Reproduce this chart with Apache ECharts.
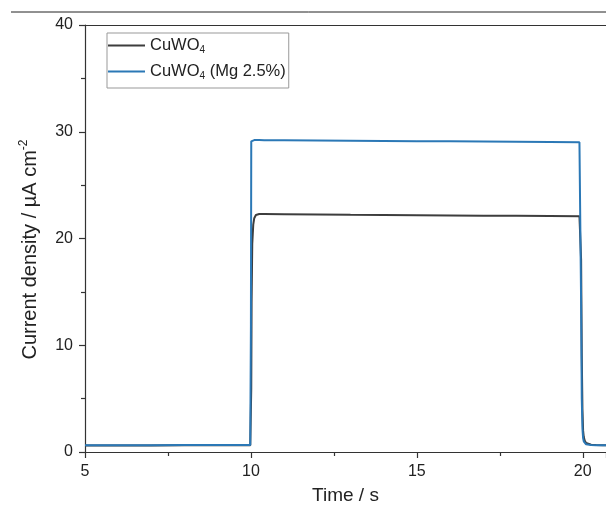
<!DOCTYPE html>
<html>
<head>
<meta charset="utf-8">
<style>
  html, body { margin: 0; padding: 0; background: #fff; }
  #chart { width: 606px; height: 513px; }
</style>
<script src="https://cdn.jsdelivr.net/npm/echarts@6/dist/echarts.min.js"></script>
</head>
<body>
<div id="chart"></div>
<script>
// Chopped-light photocurrent transient: time (s) and current density (µA cm^-2)
const time = [5, 6, 7, 8, 9, 9.98, 10.0, 10.01, 10.02, 10.04, 10.07, 10.1, 10.15, 10.25, 10.4,
  11, 12, 13, 14, 15, 16, 17, 18, 19, 19.9, 19.93, 19.95, 19.97, 19.99, 20.01, 20.03,
  20.06, 20.1, 20.15, 20.25, 20.4, 20.6, 20.8];

const cuwo4 = [0.62, 0.62, 0.62, 0.63, 0.63, 0.64, 0.7, 6.0, 14.0, 19.5, 21.3, 21.9, 22.2, 22.3, 22.3,
  22.28, 22.25, 22.22, 22.2, 22.18, 22.16, 22.14, 22.12, 22.1, 22.08, 22.05, 18.0, 9.0, 4.0, 2.0, 1.4,
  1.05, 0.85, 0.75, 0.68, 0.65, 0.63, 0.62];

const cuwo4Mg = [0.64, 0.64, 0.64, 0.65, 0.65, 0.66, 12.0, 29.1, 29.2, 29.22, 29.22, 29.22, 29.22, 29.22, 29.21,
  29.2, 29.18, 29.16, 29.14, 29.12, 29.1, 29.08, 29.06, 29.04, 29.02, 29.0, 14.0, 5.0, 2.2, 1.3, 1.0,
  0.82, 0.72, 0.68, 0.65, 0.64, 0.63, 0.63];

const seriesNames = ['CuWO4', 'CuWO4 (Mg 2.5%)'];
const xTicks = [5, 10, 15, 20];
const yTicks = [0, 10, 20, 30, 40];

const pairs = (ys) => time.map((t, i) => [t, ys[i]]);

const chart = echarts.init(document.getElementById('chart'), null, { renderer: 'canvas' });

const axisColor = '#333';
const font = 'Liberation Sans, Arial, sans-serif';

chart.setOption({
  animation: false,
  backgroundColor: '#fff',
  grid: { left: 85, right: 0, top: 25, bottom: 61, containLabel: false },
  graphic: [{
    type: 'line',
    shape: { x1: 11, y1: 12, x2: 606, y2: 12 },
    style: { stroke: '#222', lineWidth: 1 }
  }],
  legend: {
    left: 107, top: 33,
    orient: 'vertical',
    padding: [4, 3, 7, 1],
    itemGap: 8,
    itemWidth: 37,
    itemHeight: 2,
    icon: 'rect',
    borderColor: '#999',
    borderWidth: 1,
    data: seriesNames,
    formatter: (name) => name === seriesNames[0]
      ? '{n|CuWO}{s|4}'
      : '{n|CuWO}{s|4}{n| (Mg 2.5%)}',
    textStyle: {
      fontFamily: font,
      color: '#222',
      rich: {
        n: { fontSize: 16.5, fontFamily: font, color: '#222', lineHeight: 19 },
        s: { fontSize: 10, fontFamily: font, color: '#222', verticalAlign: 'bottom', lineHeight: 5 }
      }
    }
  },
  xAxis: [{
    type: 'value',
    min: 5, max: 20.7, interval: 5,
    name: 'Time / s',
    nameLocation: 'middle',
    nameGap: 34,
    nameTextStyle: { fontFamily: font, fontSize: 19, color: '#222' },
    axisLine: { show: true, onZero: false, lineStyle: { color: axisColor, width: 1.2 } },
    axisTick: { show: true, inside: false, length: 6, lineStyle: { color: axisColor, width: 1.2 } },
    minorTick: { show: true, splitNumber: 2, length: 4, lineStyle: { color: axisColor, width: 1.2 } },
    axisLabel: {
      fontFamily: font, fontSize: 16, color: '#222', margin: 12,
      formatter: (v) => xTicks.includes(v) ? String(v) : '',
      showMaxLabel: false
    },
    splitLine: { show: false }
  }, {
    type: 'value',
    position: 'top',
    min: 5, max: 20.7,
    axisLine: { show: true, onZero: false, lineStyle: { color: axisColor, width: 1.2 } },
    axisTick: { show: false },
    axisLabel: { show: false },
    splitLine: { show: false }
  }],
  yAxis: {
    type: 'value',
    min: 0, max: 40, interval: 10,
    name: '{n|Current density / µA cm}{s|-2}',
    nameLocation: 'middle',
    nameGap: 43,
    nameRotate: 90,
    nameTextStyle: {
      fontFamily: font, fontSize: 20, color: '#222',
      padding: [0, 22, 0, 0],
      rich: {
        n: { fontFamily: font, fontSize: 20, color: '#222' },
        s: { fontFamily: font, fontSize: 12, color: '#222', verticalAlign: 'top', padding: [0, 0, 12, 0] }
      }
    },
    axisLine: { show: true, onZero: false, lineStyle: { color: axisColor, width: 1.2 } },
    axisTick: { show: true, inside: false, length: 6, lineStyle: { color: axisColor, width: 1.2 } },
    minorTick: { show: true, splitNumber: 2, length: 4, lineStyle: { color: axisColor, width: 1.2 } },
    axisLabel: {
      fontFamily: font, fontSize: 16, color: '#222', margin: 12,
      formatter: (v) => yTicks.includes(v) ? String(v) : ''
    },
    splitLine: { show: false }
  },
  series: [{
    name: seriesNames[0],
    type: 'line',
    data: pairs(cuwo4),
    showSymbol: false,
    smooth: false,
    color: '#3d3d3d',
    lineStyle: { width: 2, color: '#3d3d3d' },
    z: 2
  }, {
    name: seriesNames[1],
    type: 'line',
    data: pairs(cuwo4Mg),
    showSymbol: false,
    smooth: false,
    color: '#2b78b6',
    lineStyle: { width: 2, color: '#2b78b6' },
    z: 3
  }]
});
</script>
</body>
</html>
